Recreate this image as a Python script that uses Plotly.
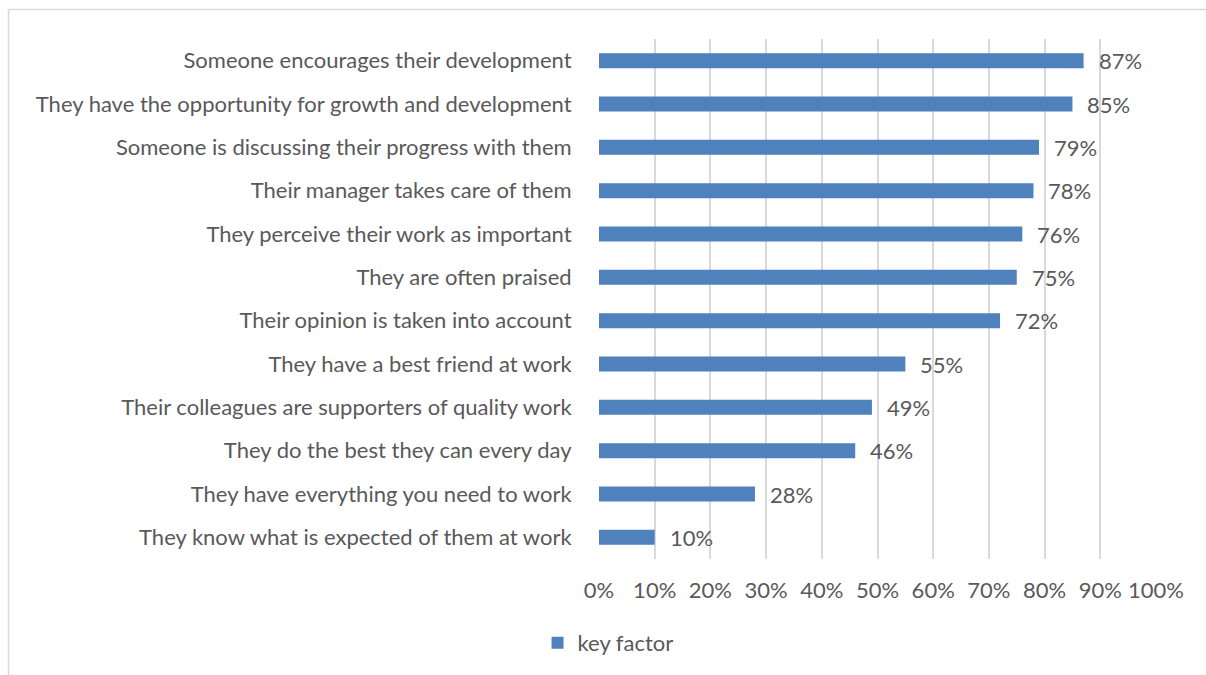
import plotly.graph_objects as go

categories = [
    "Someone encourages their development",
    "They have the opportunity for growth and development",
    "Someone is discussing their progress with them",
    "Their manager takes care of them",
    "They perceive their work as important",
    "They are often praised",
    "Their opinion is taken into account",
    "They have a best friend at work",
    "Their colleagues are supporters of quality work",
    "They do the best they can every day",
    "They have everything you need to work",
    "They know what is expected of them at work",
]
values = [87, 85, 79, 78, 76, 75, 72, 55, 49, 46, 28, 10]
tick_vals = [0, 10, 20, 30, 40, 50, 60, 70, 80, 90, 100]
tick_text = [f"{v}%" for v in tick_vals]
series_name = "key factor"

W, H = 1206, 675
L, R, T, B = 598.5, 50, 39, 116
pw, ph = W - L - R, H - T - B

FONT = "Lato"
FS = 22
TXT = "#595959"
BAR = "#4F81BD"

fig = go.Figure()
fig.add_trace(go.Bar(
    y=categories, x=values, orientation="h", name=series_name,
    marker=dict(color=BAR, line=dict(width=0)),
    width=0.345,
    showlegend=True,
))
for c, v in zip(categories, values):
    fig.add_annotation(x=v, y=c, text=f"{v}%", showarrow=False,
                       xanchor="left", xshift=13,
                       font=dict(family=FONT, size=FS, color=TXT))

def px2paper_x(px):
    return (px - L) / pw

def px2paper_y(py):
    return (H - B - py) / ph

# chart border (left and top)
fig.add_shape(type="line", xref="paper", yref="paper",
              x0=px2paper_x(7.5), x1=px2paper_x(1210), y0=px2paper_y(9.5), y1=px2paper_y(9.5),
              line=dict(color="#D9D9D9", width=1.5))
fig.add_shape(type="line", xref="paper", yref="paper",
              x0=px2paper_x(7.5), x1=px2paper_x(7.5), y0=px2paper_y(9.5), y1=px2paper_y(680),
              line=dict(color="#D9D9D9", width=1.5))

fig.update_layout(
    width=W, height=H,
    margin=dict(l=L, r=R, t=T, b=B, autoexpand=False),
    paper_bgcolor="white", plot_bgcolor="white",
    font=dict(family=FONT, size=FS, color=TXT),
    showlegend=True,
    legend=dict(orientation="h", x=px2paper_x(537), y=px2paper_y(643),
                xanchor="left", yanchor="middle", bgcolor="rgba(0,0,0,0)",
                font=dict(family=FONT, size=FS, color=TXT),
                itemwidth=30, tracegroupgap=0),
    xaxis=dict(range=[0, 100], tickvals=tick_vals, ticktext=tick_text,
               showgrid=True, gridcolor="#D9D9D9", gridwidth=1.5,
               zeroline=False, showline=False, ticks="outside", ticklen=12,
               tickcolor="rgba(0,0,0,0)",
               tickfont=dict(family=FONT, size=FS, color=TXT), fixedrange=True),
    yaxis=dict(autorange="reversed", showgrid=False, zeroline=False,
               showline=False, ticks="outside", ticklen=22, tickcolor="rgba(0,0,0,0)",
               tickfont=dict(family=FONT, size=FS, color=TXT), fixedrange=True),
)

fig.write_html("out.html", config={"displayModeBar": False},
               post_script="document.body.style.margin='0';document.body.style.overflow='hidden';")
